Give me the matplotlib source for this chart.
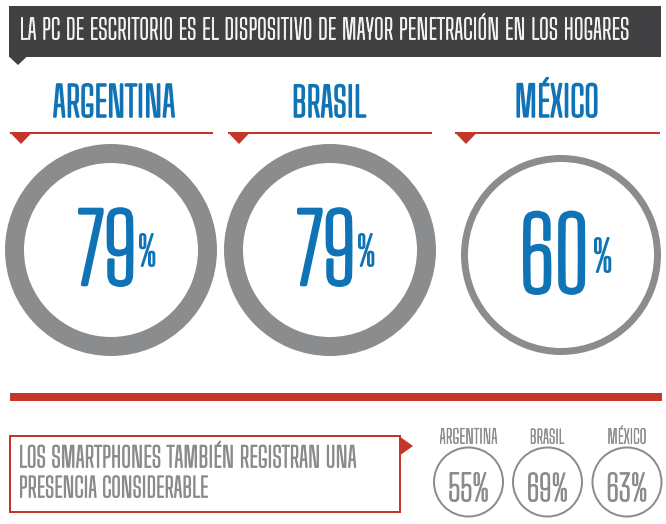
import unicodedata
import matplotlib
matplotlib.use("Agg")
import matplotlib.pyplot as plt
from matplotlib import patches
from matplotlib import patheffects as pe
from matplotlib.textpath import TextPath
from matplotlib.font_manager import FontProperties

# ---------------- data ----------------
title = "LA PC DE ESCRITORIO ES EL DISPOSITIVO DE MAYOR PENETRACIÓN EN LOS HOGARES"
countries = ["ARGENTINA", "BRASIL", "MÉXICO"]
pc_values = [79, 79, 60]
smart_title = ["LOS SMARTPHONES TAMBIÉN REGISTRAN UNA", "PRESENCIA CONSIDERABLE"]
smart_values = [55, 69, 63]

# ---------------- style ----------------
FONT = "Big Shoulders Text"
DARK = "#414042"
BLUE = "#0f73b6"
RED = "#c4352a"
GRAY = "#8b8c8e"
TXTGRAY = "#8a8b8d"
DPI = 100

fig = plt.figure(figsize=(6.66, 5.24), dpi=DPI)
ax = fig.add_axes([0, 0, 1, 1])
ax.set_xlim(0, 666)
ax.set_ylim(524, 0)
ax.axis("off")

_fp = FontProperties(family=FONT)


def _ink(s):
    return TextPath((0, 0), s, size=1, prop=_fp).get_extents()


def _strip(s):
    return "".join(c for c in unicodedata.normalize("NFD", s)
                   if unicodedata.category(c) != "Mn")


def put(s, bottom, height, left=None, center=None, width=None, a=0.5,
        color="k", bold=0.0, zorder=5):
    """Place text so that its ink (without accents) fits the given box.
    `bold` is an outline width in pixels that thickens the thin strokes."""
    e = _ink(s)
    r = _ink(_strip(s))
    size = (height - bold) / (r.y1 - r.y0)
    if width is not None:
        size = size ** a * ((width - bold) / e.width) ** (1 - a)
    w = e.width * size
    if center is not None:
        left = center - w / 2
    else:
        left = left + bold / 2
    x = left - e.x0 * size
    y = bottom - bold / 2 + r.y0 * size
    effects = [pe.withStroke(linewidth=bold * 72 / DPI, foreground=color)] if bold else None
    ax.text(x, y, s, fontsize=size * 72 / DPI, family=FONT, color=color,
            ha="left", va="baseline", zorder=zorder, path_effects=effects)


# ---------------- header ----------------
ax.add_patch(patches.Rectangle((9, 6), 652, 51, fc=DARK, ec="none"))
ax.add_patch(patches.Polygon([(9, 56.5), (27, 56.5), (18, 65)], closed=True,
                             fc=DARK, ec="none"))
put(title, bottom=40, height=23, left=21, width=610, color="#f4f4f4", bold=0.9)

# ---------------- PC section ----------------
label_cx = [114, 330, 557]
label_w = [122, 71, 82]
line_x = [(10, 213), (228, 432), (455, 660)]
ring_c = [(111, 250), (330, 250), (561, 255)]
ring_r = [106, 106, 100]
ring_w = [19, 19, 7]
num_box = [(78, 287, 79, 56), (297, 287, 79, 56), (523, 295, 82, 64)]  # left, bottom, h, w
pct_box = [(139, 267, 34), (358, 267, 34), (594, 273, 36)]  # left, bottom, h

for i, name in enumerate(countries):
    put(name, bottom=118, height=35, center=label_cx[i], width=label_w[i],
        color=BLUE, bold=2.0)
    x0, x1 = line_x[i]
    ax.plot([x0, x1], [133, 133], color=RED, lw=2 * 72 / DPI,
            solid_capstyle="butt")
    ax.add_patch(patches.Polygon([(x0, 132.5), (x0 + 22, 132.5), (x0 + 11, 144)],
                                 closed=True, fc=RED, ec="none"))
    cx, cy = ring_c[i]
    ax.add_patch(patches.Annulus((cx, cy), ring_r[i], ring_w[i],
                                 fc=GRAY, ec="none"))
    nl, nb, nh, nw = num_box[i]
    put(str(pc_values[i]), bottom=nb, height=nh, left=nl, width=nw,
        color=BLUE, bold=3.5)
    pl, pb, ph = pct_box[i]
    put("%", bottom=pb, height=ph, left=pl, color=BLUE, bold=1.6)

# ---------------- divider ----------------
ax.add_patch(patches.Rectangle((10, 393), 652, 8, fc=RED, ec="none"))

# ---------------- smartphones box ----------------
ax.add_patch(patches.Rectangle((10, 436), 390, 76, fc="none", ec=RED,
                               lw=2 * 72 / DPI))
ax.add_patch(patches.Polygon([(399, 436), (413, 446), (399, 456)], closed=True,
                             fc=RED, ec="none"))
put(smart_title[0], bottom=468, height=23, left=20, width=343, color=TXTGRAY,
    bold=1.2)
put(smart_title[1], bottom=498, height=22, left=20, width=195, color=TXTGRAY,
    bold=1.2)

small_cx = [468.5, 547.5, 627]
small_w = [62, 35, 40]
for i, name in enumerate(countries):
    cx = small_cx[i]
    put(name, bottom=444, height=15, center=cx, width=small_w[i], color=TXTGRAY,
        bold=0.6)
    ax.add_patch(patches.Circle((cx, 482), 34.5, fc="none", ec=GRAY,
                                lw=2 * 72 / DPI))
    put(f"{smart_values[i]}%", bottom=502, height=27, center=cx, width=43,
        color=TXTGRAY, bold=1.2)

fig.savefig("out.png", dpi=DPI)
